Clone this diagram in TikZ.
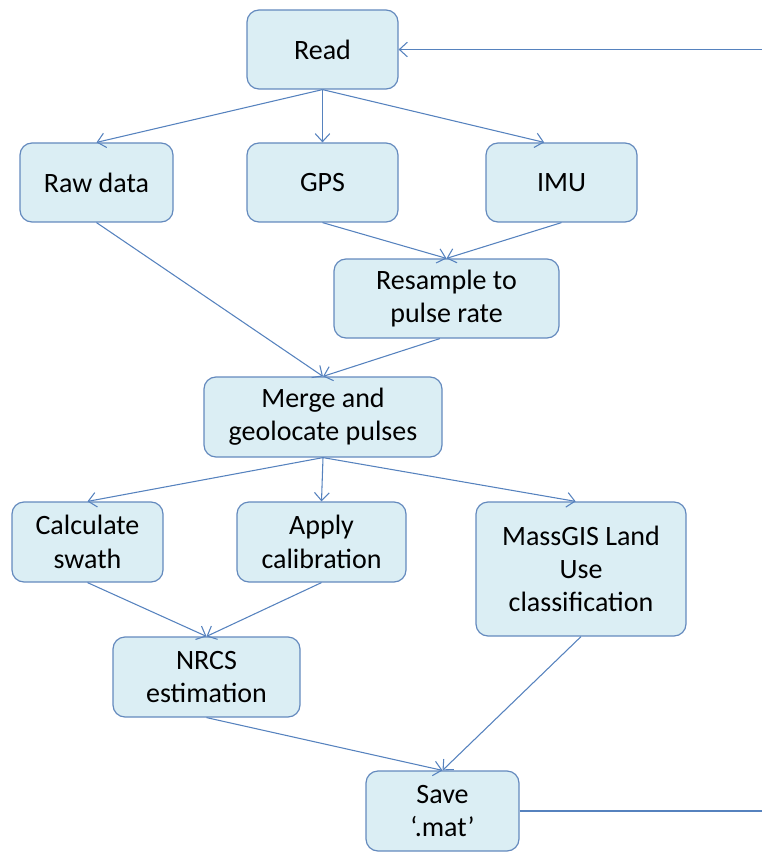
\documentclass[tikz,border=0pt]{standalone}
\usepackage{fontspec}
\setmainfont{Carlito}
\usetikzlibrary{arrows.meta}
\definecolor{boxfill}{RGB}{219,238,244}
\definecolor{boxline}{RGB}{100,138,190}
\definecolor{flowline}{RGB}{86,130,190}
\tikzset{
	stage/.style={draw=boxline, fill=boxfill, line width=0.9pt, rounded corners=9pt, align=center, inner sep=0pt, font=\fontsize{21}{25}\selectfont},
	flow/.style={draw=flowline, line width=0.8pt, -{Straight Barb[length=6pt,width=11pt]}}
}
\begin{document}
\begin{tikzpicture}[x=0.75pt,y=-0.75pt]
				\useasboundingbox (0,0) rectangle (762,852);
				
				% top row
				\node[stage, minimum width=113.25pt, minimum height=59.25pt] (read) at (322.5,49.5) {Read};
				\node[stage, minimum width=114.75pt, minimum height=59.25pt] (rawdata) at (96.5,182.5) {Raw data};
				\node[stage, minimum width=113.25pt, minimum height=59.25pt] (gps) at (322.5,182.5) {GPS};
				\node[stage, minimum width=113.25pt, minimum height=59.25pt] (imu) at (561.5,182.5) {IMU};
				\node[stage, minimum width=168.75pt, minimum height=59.25pt] (resample) at (446.5,298.5) {Resample to\\pulse rate};
				\node[stage, minimum width=178.5pt, minimum height=60pt] (merge) at (323,417) {Merge and\\geolocate pulses};
				
				% processing
				\node[stage, minimum width=113.25pt, minimum height=60pt] (swath) at (87.5,542) {Calculate\\swath};
				\node[stage, minimum width=126.75pt, minimum height=60pt] (calib) at (321.5,542) {Apply\\calibration};
				\node[stage, minimum width=157.5pt, minimum height=100.5pt] (massgis) at (581,569) {MassGIS Land\\Use\\classification};
				\node[stage, minimum width=140.25pt, minimum height=60pt] (nrcs) at (206.5,677) {NRCS\\estimation};
				\node[stage, minimum width=114.75pt, minimum height=60pt] (save) at (442.5,811) {Save\\`.mat'};
				
				\coordinate (loopin) at (762,49.5);
				\coordinate (loopout) at (762,811);
				
				\draw[flow] (read.south) -- (rawdata.north);
				\draw[flow] (read.south) -- (gps.north);
				\draw[flow] (read.south) -- ([xshift=-13pt]imu.north);
				\draw[flow] (gps.south) -- (resample.north);
				\draw[flow] (imu.south) -- (resample.north);
				\draw[flow] (rawdata.south) -- (merge.north);
				\draw[flow] ([xshift=-5pt]resample.south) -- (merge.north);
				
				\draw[flow] (merge.south) -- (swath.north);
				\draw[flow] (merge.south) -- (calib.north);
				\draw[flow] (merge.south) -- ([xshift=-4pt]massgis.north);
				\draw[flow] (swath.south) -- (nrcs.north);
				\draw[flow] (calib.south) -- (nrcs.north);
				\draw[flow] (nrcs.south) -- (save.north);
				\draw[flow] (massgis.south) -- (save.north);
				
				% loop back
				\draw[draw=flowline, line width=0.8pt] (save.east) -- (loopout);
				\draw[flow] (loopin) -- (read.east);
\end{tikzpicture}
\end{document}
